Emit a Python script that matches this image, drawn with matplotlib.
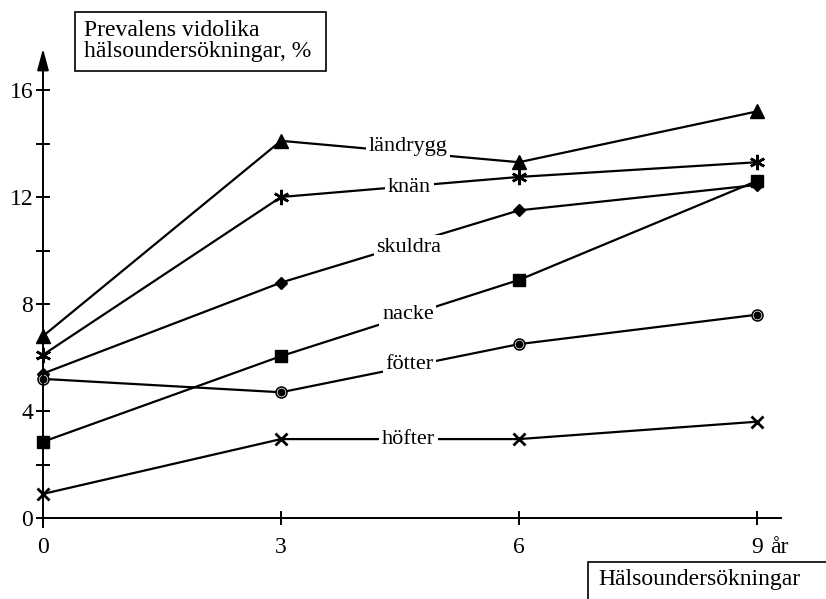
import matplotlib
matplotlib.use('Agg')
import matplotlib.pyplot as plt
from matplotlib.patches import Rectangle

# survey rounds (years)
years = [0, 3, 6, 9]

# prevalence, %
landrygg = [6.8, 14.1, 13.3, 15.2]
knan = [6.1, 12.0, 12.75, 13.3]
skuldra = [5.4, 8.8, 11.5, 12.45]
nacke = [2.85, 6.05, 8.9, 12.6]
fotter = [5.2, 4.7, 6.5, 7.6]
hofter = [0.9, 2.95, 2.95, 3.6]

series_names = ['ländrygg', 'knän', 'skuldra', 'nacke', 'fötter', 'höfter']
label_pos = [(4.6, 13.9), (4.62, 12.37), (4.61, 10.13), (4.6, 7.6), (4.62, 5.72), (4.61, 2.92)]

xticks = [0, 3, 6, 9]
xticklabels = ['0', '3', '6', '9']
yticks = [0, 4, 8, 12, 16]
yminor = [2, 6, 10, 14]

plt.rcParams['font.family'] = ['Liberation Serif', 'DejaVu Serif']

W, H = 826, 599
fig = plt.figure(figsize=(W / 100, H / 100), dpi=100)
ax = fig.add_axes([0, 0, 1, 1])

# pixel mapping: x=0 at 43 px, 79.33 px/unit; y=0 at 81 px from bottom, 26.75 px/unit
ax.set_xlim(-43 / 79.33, (W - 43) / 79.33)
ax.set_ylim(-81 / 26.75, (H - 81) / 26.75)

for s in ['top', 'right']:
    ax.spines[s].set_visible(False)
ax.spines['left'].set_position(('data', 0))
ax.spines['bottom'].set_position(('data', 0))
ax.spines['left'].set_bounds(-0.35, 17.0)
ax.spines['bottom'].set_bounds(0, 9.3)
ax.spines['left'].set_linewidth(1.4)
ax.spines['bottom'].set_linewidth(1.4)

ax.annotate('', xy=(0, 17.65), xytext=(0, 16.9),
            arrowprops=dict(arrowstyle='-|>,head_length=1.3,head_width=0.35',
                            color='black', lw=1.4))

ax.set_xticks(xticks)
ax.set_xticklabels(xticklabels)
ax.set_yticks(yticks)
ax.set_yticks(yminor, minor=True)
ax.tick_params(axis='both', which='both', direction='inout', length=10, width=1.4,
               labelsize=17)
ax.tick_params(axis='x', pad=9)
ax.tick_params(axis='y', pad=2)
ax.text(9.16, -1.12, 'år', ha='left', va='center', fontsize=17)

lw = 1.6
ax.plot(years, landrygg, color='black', lw=lw, marker='^', markersize=10)
ax.plot(years, knan, color='black', lw=lw, marker=(6, 2, 0), markersize=11, mew=1.8)
ax.plot(years, skuldra, color='black', lw=lw, marker='D', markersize=6.5)
ax.plot(years, nacke, color='black', lw=lw, marker='s', markersize=8.5)
ax.plot(years, fotter, color='black', lw=lw, marker='o', markersize=8)
ax.plot(years, fotter, color='none', lw=0, marker='o', markersize=6.2,
        markerfacecolor='none', markeredgecolor='white', mew=0.5)
ax.plot(years, hofter, color='black', lw=lw, marker='x', markersize=8, mew=2)

for name, (lx, ly) in zip(series_names, label_pos):
    ax.text(lx, ly, name, ha='center', va='center', fontsize=16,
            bbox=dict(facecolor='white', edgecolor='none', pad=2))

# y title box
fig.patches.append(Rectangle((75 / W, 1 - 71 / H), 251 / W, 59 / H,
                             transform=fig.transFigure, facecolor='white',
                             edgecolor='black', lw=1.2))
fig.text(84 / W, 1 - 41 / H, 'Prevalens vidolika\nhälsoundersökningar, %',
         ha='left', va='center', fontsize=17, linespacing=1.05)

# x title box (runs off the right/bottom edge)
fig.patches.append(Rectangle((588 / W, 1 - 640 / H), 260 / W, 78 / H,
                             transform=fig.transFigure, facecolor='white',
                             edgecolor='black', lw=1.2))
fig.text(598 / W, 1 - 580 / H, 'Hälsoundersökningar', ha='left', va='center',
         fontsize=17)

fig.savefig('out.png', dpi=100)
